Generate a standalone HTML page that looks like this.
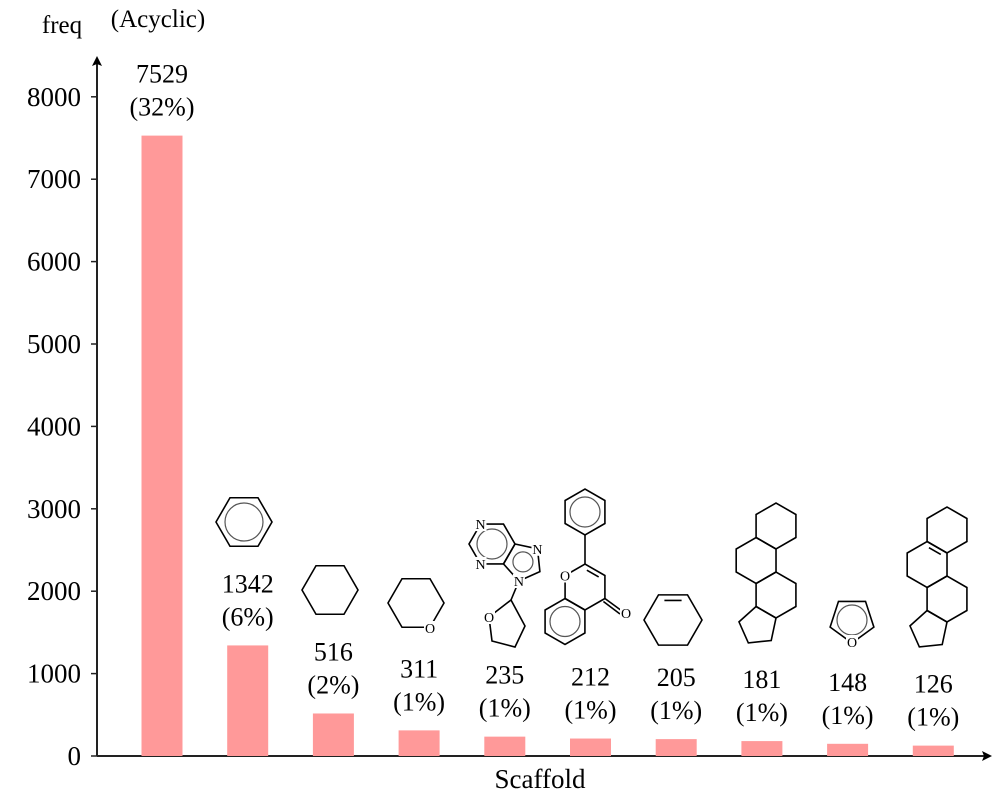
<!DOCTYPE html>
<html><head><meta charset="utf-8"><style>
body{margin:0;background:#fff;}
svg text{font-family:"Liberation Serif",serif;fill:#000;}
</style></head><body>
<svg id="chart" width="1000" height="800" viewBox="0 0 1000 800" xmlns="http://www.w3.org/2000/svg">
<g id="axes"></g>
<g id="bars"></g>
<g id="labels"></g>
<g id="mols" fill="none" stroke="#000" stroke-width="1.6"></g>
</svg>
<script>
const categories = ["Acyclic","benzene","cyclohexane","oxane","purine-thf","flavone","cyclohexene","steroid","furan","steroid-ene"];
const counts = [7529,1342,516,311,235,212,205,181,148,126];
const percents = ["32%","6%","2%","1%","1%","1%","1%","1%","1%","1%"];
const yTicks = [0,1000,2000,3000,4000,5000,6000,7000,8000];

const NS="http://www.w3.org/2000/svg";
const X0=97, Y0=756, PX_PER=0.0824, STEP=85.7, FIRST=162, BW=41;
const yScale=v=>Y0-v*PX_PER;
const xScale=i=>FIRST+i*STEP;
function mk(tag,attrs,parent){const e=document.createElementNS(NS,tag);for(const k in attrs)e.setAttribute(k,attrs[k]);parent.appendChild(e);return e;}

const axes=document.getElementById('axes');
let a=mk('line',{x1:X0,y1:Y0,x2:985,y2:Y0,stroke:'#222','stroke-width':2},axes);


a=mk('path',{d:'M992 756 L982 751 L984 756 L982 761 Z',fill:'#000'},axes);


a=mk('line',{x1:X0,y1:Y0,x2:X0,y2:62,stroke:'#222','stroke-width':2},axes);


a=mk('path',{d:'M97 56 L92 66 L97 64 L102 66 Z',fill:'#000'},axes);


yTicks.forEach(t=>{
  const y=yScale(t);
  const l=mk('line',{x1:91,y1:y,x2:X0,y2:y,stroke:'#222','stroke-width':1.5},axes);
  
  
  const tx=mk('text',{x:81,y:y+9,'text-anchor':'end','font-size':27},axes);
  tx.textContent=t;
  
  
});
let t=mk('text',{x:62,y:33,'text-anchor':'middle','font-size':25},axes);t.textContent='freq';


t=mk('text',{x:540,y:788,'text-anchor':'middle','font-size':27},axes);t.textContent='Scaffold';


t=mk('text',{x:158,y:27,'text-anchor':'middle','font-size':25},axes);t.textContent='(Acyclic)';



const bars=document.getElementById('bars'), labels=document.getElementById('labels');
counts.forEach((c,i)=>{
  const top=yScale(c), cx=xScale(i);
  const r=mk('rect',{x:cx-BW/2,y:top,width:BW,height:Y0-top,fill:'#ff9999'},bars);
  
  
  const t1=mk('text',{x:cx,y:top-53,'text-anchor':'middle','font-size':26},labels);
  t1.textContent=c;
  
  
  const t2=mk('text',{x:cx,y:top-20,'text-anchor':'middle','font-size':26},labels);
  t2.textContent='('+percents[i]+')';
  
  
});

const mols=document.getElementById('mols');
function hex(cx,cy,r,flat){const p=[];for(let k=0;k<6;k++){const ang=(flat?0:30)+60*k;p.push([cx+r*Math.cos(ang*Math.PI/180),cy+r*Math.sin(ang*Math.PI/180)]);}return p;}
function pent(cx,cy,r,rot){const p=[];for(let k=0;k<5;k++){const ang=rot+72*k;p.push([cx+r*Math.cos(ang*Math.PI/180),cy+r*Math.sin(ang*Math.PI/180)]);}return p;}
function polyOnEdge(p1,p2,n,sgn){const pts=[p1,p2];let dx=p2[0]-p1[0],dy=p2[1]-p1[1];const ext=sgn*2*Math.PI/n;let cur=p2;for(let k=0;k<n-2;k++){const c=Math.cos(ext),s=Math.sin(ext);const ndx=dx*c-dy*s,ndy=dx*s+dy*c;dx=ndx;dy=ndy;cur=[cur[0]+dx,cur[1]+dy];pts.push(cur);}return pts;}
function poly(pts,g){mk('polygon',{points:pts.map(p=>p.join(',')).join(' ')},g);}
function line(a,b,g,extra){mk('line',Object.assign({x1:a[0],y1:a[1],x2:b[0],y2:b[1]},extra||{}),g);}
function circ(cx,cy,r,g){mk('circle',{cx:cx,cy:cy,r:r,stroke:'#555','stroke-width':1.2},g);}
function lbl(x,y,s,g){const tt=mk('text',{x:x,y:y+5,'text-anchor':'middle','font-size':14,stroke:'none',fill:'#000'},g);tt.textContent=s;}
function group(name){const g=mk('g',{},mols);return g;}
function inner(p1,p2,c,g){const f=0.78;const a=[c[0]+(p1[0]-c[0])*f,c[1]+(p1[1]-c[1])*f],b=[c[0]+(p2[0]-c[0])*f,c[1]+(p2[1]-c[1])*f];const sx=(b[0]-a[0])*0.12,sy=(b[1]-a[1])*0.12;line([a[0]+sx,a[1]+sy],[b[0]-sx,b[1]-sy],g);}

let g=group('benzene-structure');poly(hex(244,522,28,true),g);circ(244,522,19,g);
g=group('cyclohexane-structure');poly(hex(330,590,28,true),g);
g=group('oxane-structure');let h=hex(416,603,28,true);poly(h,g);
mk('rect',{x:424,y:621,width:12,height:14,fill:'#fff',stroke:'none'},g);lbl(430,628,'O',g);
g=group('purine-thf-structure');
h=hex(492,544,23,true);poly(h,g);circ(492,544,15,g);
let p5=polyOnEdge(h[0],h[1],5,-1);poly(p5,g);
const pc=[(p5.reduce((s,p)=>s+p[0],0))/5,(p5.reduce((s,p)=>s+p[1],0))/5];circ(pc[0],pc[1],10,g);
const n9=p5[2];
const thf=[[511,600],[489,617],[492,641],[515,647],[525,626]];
line(n9,thf[0],g);poly(thf,g);
[[h[4],'N'],[h[2],'N'],[p5[4],'N'],[n9,'N'],[thf[1],'O']].forEach(([p,s])=>{mk('rect',{x:p[0]-6,y:p[1]-7,width:12,height:14,fill:'#fff',stroke:'none'},g);lbl(p[0],p[1],s,g);});
g=group('flavone-structure');
let ph=hex(585,512,23,false);poly(ph,g);circ(585,512,15,g);
let py=hex(585,587,23,false);poly(py,g);
let bz=hex(565,621.5,23,false);poly(bz,g);circ(565,621.5,15,g);
line(ph[1],py[4],g);
inner(py[4],py[5],[585,587],g);
line(py[0],[622,611],g);line([py[0][0]-1.5,py[0][1]+3],[620,614],g);
[[py[3],'O'],[[626,613],'O']].forEach(([p,s])=>{mk('rect',{x:p[0]-6,y:p[1]-7,width:12,height:14,fill:'#fff',stroke:'none'},g);lbl(p[0],p[1],s,g);});
g=group('cyclohexene-structure');h=hex(673,620,29,true);poly(h,g);inner(h[4],h[5],[673,620],g);
function steroid(cx,cy,name,ene){
  const gg=group(name);const r=23,dx=19.9,dy=34.5;
  const A=hex(cx,cy,r,false),B=hex(cx-dx,cy+dy,r,false),C=hex(cx,cy+2*dy,r,false);
  poly(A,gg);poly(B,gg);poly(C,gg);
  const D=polyOnEdge(C[2],C[1],5,1);poly(D,gg);
  if(ene) inner(B[4],B[5],[cx-dx,cy+dy],gg);
}
steroid(776,526,'steroid-structure',false);
steroid(947,530,'steroid-ene-structure',true);
g=group('furan-structure');let f=pent(852,620,23,90);poly(f,g);circ(852,620,15,g);
mk('rect',{x:846,y:635,width:12,height:14,fill:'#fff',stroke:'none'},g);lbl(852,642,'O',g);
</script>
</body></html>
